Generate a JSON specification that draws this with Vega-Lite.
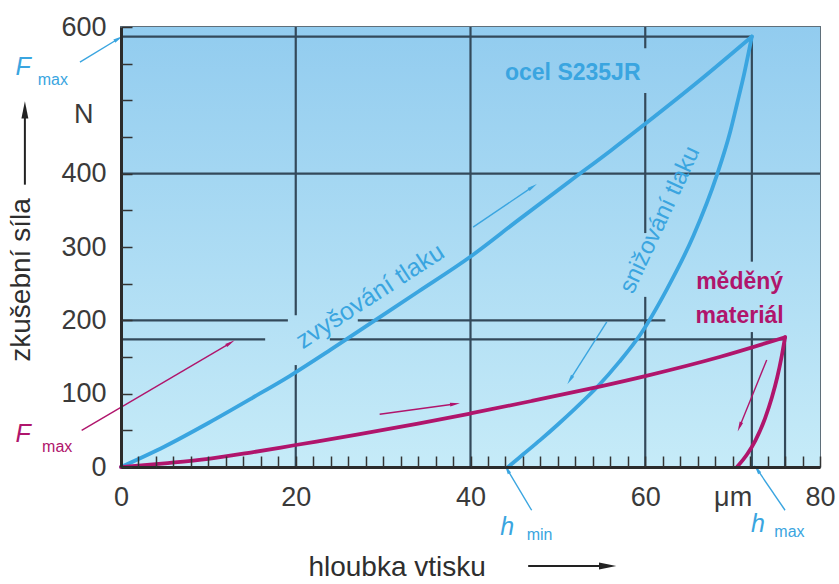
{
  "$schema": "https://vega.github.io/schema/vega-lite/v6.json",
  "width": 699,
  "height": 440,
  "autosize": "none",
  "padding": {"left": 121, "top": 27, "right": 19, "bottom": 117},
  "background": "white",
  "config": {"view": {"stroke": "#5f6f7a", "strokeWidth": 2}, "font": "Liberation Sans", "axis": {"labelOverlap": false}},
  "resolve": {"axis": {"x": "independent", "y": "independent"}},
  "datasets": {
    "frame": [{"x": 0, "x2": 80, "y": 0, "y2": 600}],
    "grid": [
      {"x": 0, "x2": 80, "y": 400, "y2": 400},
      {"x": 0, "x2": 19.1, "y": 200, "y2": 200},
      {"x": 27.1, "x2": 62.3, "y": 200, "y2": 200},
      {"x": 0, "x2": 16.5, "y": 174, "y2": 174},
      {"x": 23.9, "x2": 76, "y": 174, "y2": 174},
      {"x": 0, "x2": 72.2, "y": 587, "y2": 587},
      {"x": 20, "x2": 20, "y": 0, "y2": 139},
      {"x": 20, "x2": 20, "y": 207, "y2": 600},
      {"x": 40, "x2": 40, "y": 0, "y2": 600},
      {"x": 60, "x2": 60, "y": 0, "y2": 232},
      {"x": 60, "x2": 60, "y": 319, "y2": 510},
      {"x": 60, "x2": 60, "y": 571, "y2": 600},
      {"x": 72.2, "x2": 72.2, "y": 0, "y2": 184},
      {"x": 72.2, "x2": 72.2, "y": 280, "y2": 587},
      {"x": 76, "x2": 76, "y": 0, "y2": 177}
    ],
    "curves": [
      {"series": "steel", "phase": "load", "x": 0, "F": 0},
      {"series": "steel", "phase": "load", "x": 5, "F": 28},
      {"series": "steel", "phase": "load", "x": 10, "F": 60},
      {"series": "steel", "phase": "load", "x": 15, "F": 94},
      {"series": "steel", "phase": "load", "x": 19.3, "F": 124},
      {"series": "steel", "phase": "load", "x": 24, "F": 160},
      {"series": "steel", "phase": "load", "x": 28.8, "F": 198},
      {"series": "steel", "phase": "load", "x": 34, "F": 239},
      {"series": "steel", "phase": "load", "x": 39.9, "F": 286},
      {"series": "steel", "phase": "load", "x": 45.5, "F": 337},
      {"series": "steel", "phase": "load", "x": 51.4, "F": 390},
      {"series": "steel", "phase": "load", "x": 56, "F": 431},
      {"series": "steel", "phase": "load", "x": 60, "F": 468},
      {"series": "steel", "phase": "load", "x": 66, "F": 525},
      {"series": "steel", "phase": "load", "x": 72.2, "F": 587},
      {"series": "steel", "phase": "unload", "x": 72.2, "F": 587},
      {"series": "steel", "phase": "unload", "x": 71.3, "F": 535},
      {"series": "steel", "phase": "unload", "x": 70.5, "F": 495},
      {"series": "steel", "phase": "unload", "x": 69.7, "F": 456},
      {"series": "steel", "phase": "unload", "x": 68.2, "F": 398},
      {"series": "steel", "phase": "unload", "x": 65.5, "F": 315},
      {"series": "steel", "phase": "unload", "x": 62.5, "F": 243},
      {"series": "steel", "phase": "unload", "x": 59.4, "F": 180},
      {"series": "steel", "phase": "unload", "x": 57, "F": 143},
      {"series": "steel", "phase": "unload", "x": 54.5, "F": 109},
      {"series": "steel", "phase": "unload", "x": 52, "F": 80},
      {"series": "steel", "phase": "unload", "x": 50, "F": 58},
      {"series": "steel", "phase": "unload", "x": 48, "F": 37},
      {"series": "steel", "phase": "unload", "x": 46, "F": 17},
      {"series": "steel", "phase": "unload", "x": 44.3, "F": 0},
      {"series": "copper", "phase": "load", "x": 0, "F": 0},
      {"series": "copper", "phase": "load", "x": 5, "F": 5},
      {"series": "copper", "phase": "load", "x": 10, "F": 11},
      {"series": "copper", "phase": "load", "x": 15, "F": 20},
      {"series": "copper", "phase": "load", "x": 20, "F": 30},
      {"series": "copper", "phase": "load", "x": 27, "F": 44},
      {"series": "copper", "phase": "load", "x": 34, "F": 59},
      {"series": "copper", "phase": "load", "x": 40, "F": 73},
      {"series": "copper", "phase": "load", "x": 47, "F": 90},
      {"series": "copper", "phase": "load", "x": 54.5, "F": 109},
      {"series": "copper", "phase": "load", "x": 60, "F": 124},
      {"series": "copper", "phase": "load", "x": 68.5, "F": 150},
      {"series": "copper", "phase": "load", "x": 76, "F": 177},
      {"series": "copper", "phase": "unload", "x": 76, "F": 177},
      {"series": "copper", "phase": "unload", "x": 75.6, "F": 150},
      {"series": "copper", "phase": "unload", "x": 75.1, "F": 122},
      {"series": "copper", "phase": "unload", "x": 74.5, "F": 95},
      {"series": "copper", "phase": "unload", "x": 73.7, "F": 66},
      {"series": "copper", "phase": "unload", "x": 72.6, "F": 36},
      {"series": "copper", "phase": "unload", "x": 71.7, "F": 18},
      {"series": "copper", "phase": "unload", "x": 70.5, "F": 0}
    ],
    "arrows": [
      {"series": "steel", "x": 40.3, "y": 327, "x2": 47.1, "y2": 382, "heading": 56},
      {"series": "steel", "x": 55.6, "y": 198, "x2": 51.4, "y2": 119, "heading": 212},
      {"series": "copper", "x": 29.6, "y": 72, "x2": 38.2, "y2": 86, "heading": 82},
      {"series": "copper", "x": 73.9, "y": 146, "x2": 70.8, "y2": 55, "heading": 202},
      {"series": "copper", "x": -4.5, "y": 50, "x2": 12.5, "y2": 169, "heading": 59},
      {"series": "steel", "x": -4.7, "y": 552, "x2": -0.3, "y2": 584, "heading": 59},
      {"series": "steel", "x": 47, "y": -59, "x2": 44.2, "y2": -3, "heading": 332},
      {"series": "steel", "x": 76, "y": -59, "x2": 72.8, "y2": -3, "heading": 327},
      {"series": "axis", "x": -11, "y": 385, "x2": -11, "y2": 487, "heading": 0},
      {"series": "axis", "x": 46.6, "y": -135, "x2": 55.7, "y2": -135, "heading": 90}
    ]
  },
  "layer": [
    {
      "data": {"name": "frame"},
      "mark": {"type": "rect", "color": {"gradient": "linear", "x1": 0, "y1": 0, "x2": 0, "y2": 1, "stops": [{"offset": 0, "color": "#92ccef"}, {"offset": 1, "color": "#c6ebf8"}]}},
      "encoding": {
        "x": {"field": "x", "type": "quantitative", "scale": {"domain": [0, 80], "nice": false, "zero": false},
          "axis": {"values": [0, 20, 40, 60, 70, 80], "orient": "bottom",
            "labelExpr": "datum.value == 70 ? 'μm' : datum.label",
            "ticks": false, "grid": false, "zindex": 1,
            "domainColor": "#2b2b2b", "domainWidth": 3, "labelFontSize": 27, "labelColor": "#3a3a3a",
            "labelFont": "Liberation Sans", "labelPadding": 17, "labelFlush": false, "labelOverlap": false, "labelBound": false, "title": null}},
        "x2": {"field": "x2"},
        "y": {"field": "y", "type": "quantitative", "scale": {"domain": [0, 600], "nice": false, "zero": false},
          "axis": {"values": [0, 100, 200, 300, 400, 500, 600], "orient": "left",
            "labelExpr": "datum.value == 500 ? 'N' : datum.label",
            "labelOffset": {"condition": {"test": "datum.value == 500", "value": 14}, "value": 0},
            "labelPadding": {"condition": {"test": "datum.value == 500", "value": 28}, "value": 15},
            "ticks": false, "grid": false, "zindex": 1,
            "domainColor": "#2b2b2b", "domainWidth": 3, "labelFontSize": 27, "labelColor": "#3a3a3a",
            "labelFont": "Liberation Sans", "labelFlush": false, "labelOverlap": false, "labelBound": false, "title": null}},
        "y2": {"field": "y2"}
      }
    },
    {
      "data": {"name": "grid"},
      "mark": {"type": "rule", "color": "#33495a", "strokeWidth": 2.2},
      "encoding": {
        "x": {"field": "x", "type": "quantitative",
          "axis": {"values": [0,2,4,6,8,10,12,14,16,18,20,22,24,26,28,30,32,34,36,38,40,42,44,46,48,50,52,54,56,58,60,62,64,66,68,70,72,74,76,78,80],
            "orient": "bottom", "offset": -11, "tickSize": 11, "tickColor": "#333", "tickWidth": 1.5,
            "labels": false, "domain": false, "grid": false, "zindex": 1, "title": null}},
        "x2": {"field": "x2"},
        "y": {"field": "y", "type": "quantitative",
          "axis": {"values": [0,50,100,150,200,250,300,350,400,450,500,550,600],
            "orient": "left", "offset": -11, "tickSize": 11, "tickColor": "#333", "tickWidth": 1.5,
            "labels": false, "domain": false, "grid": false, "zindex": 1, "title": null}},
        "y2": {"field": "y2"}
      }
    },
    {
      "data": {"name": "curves"},
      "mark": {"type": "line", "strokeWidth": 3.8, "strokeCap": "round", "strokeJoin": "round", "interpolate": "monotone"},
      "encoding": {
        "x": {"field": "x", "type": "quantitative", "axis": null},
        "y": {"field": "F", "type": "quantitative", "axis": null},
        "detail": {"field": "phase"},
        "color": {"field": "series", "type": "nominal", "scale": {"domain": ["steel", "copper", "axis"], "range": ["#3aa5e0", "#b0156c", "#222222"]}, "legend": null}
      }
    },
    {
      "data": {"name": "arrows"},
      "transform": [{"filter": "datum.series != 'axis'"}],
      "mark": {"type": "rule", "strokeWidth": 1.4},
      "encoding": {
        "x": {"field": "x", "type": "quantitative", "axis": null},
        "x2": {"field": "x2"},
        "y": {"field": "y", "type": "quantitative", "axis": null},
        "y2": {"field": "y2"},
        "color": {"field": "series", "type": "nominal", "legend": null}
      }
    },
    {
      "data": {"name": "arrows"},
      "transform": [{"filter": "datum.series != 'axis'"}],
      "mark": {"type": "point", "shape": "M-0.35,0.9L0,-1L0.35,0.9Z", "filled": true, "opacity": 1, "size": 110},
      "encoding": {
        "x": {"field": "x2", "type": "quantitative", "axis": null},
        "y": {"field": "y2", "type": "quantitative", "axis": null},
        "angle": {"field": "heading", "type": "quantitative", "scale": null},
        "color": {"field": "series", "type": "nominal", "legend": null}
      }
    },
    {
      "data": {"name": "arrows"},
      "transform": [{"filter": "datum.series == 'axis'"}],
      "mark": {"type": "rule", "strokeWidth": 2},
      "encoding": {
        "x": {"field": "x", "type": "quantitative", "axis": null},
        "x2": {"field": "x2"},
        "y": {"field": "y", "type": "quantitative", "axis": null},
        "y2": {"field": "y2"},
        "color": {"field": "series", "type": "nominal", "legend": null}
      }
    },
    {
      "data": {"name": "arrows"},
      "transform": [{"filter": "datum.series == 'axis'"}],
      "mark": {"type": "point", "shape": "M-0.4,1L0,-1L0.4,1Z", "filled": true, "opacity": 1, "size": 300},
      "encoding": {
        "x": {"field": "x2", "type": "quantitative", "axis": null},
        "y": {"field": "y2", "type": "quantitative", "axis": null},
        "angle": {"field": "heading", "type": "quantitative", "scale": null},
        "color": {"field": "series", "type": "nominal", "legend": null}
      }
    },
    {
      "data": {"values": [
        {"text": "ocel S235JR", "x": 51.7, "y": 537, "series": "steel"},
        {"text": "měděný", "x": 70.8, "y": 252, "series": "copper"},
        {"text": "materiál", "x": 70.8, "y": 206, "series": "copper"}
      ]},
      "mark": {"type": "text", "fontSize": 23, "fontWeight": "bold", "font": "Liberation Sans", "align": "center", "baseline": "middle"},
      "encoding": {
        "x": {"field": "x", "type": "quantitative", "axis": null},
        "y": {"field": "y", "type": "quantitative", "axis": null},
        "text": {"field": "text"},
        "color": {"field": "series", "type": "nominal", "legend": null}
      }
    },
    {
      "data": {"values": [{"text": "zvyšování tlaku", "x": 28.5, "y": 233, "series": "steel"}]},
      "mark": {"type": "text", "fontSize": 25, "angle": 327, "font": "Liberation Sans", "align": "center", "baseline": "middle"},
      "encoding": {
        "x": {"field": "x", "type": "quantitative", "axis": null},
        "y": {"field": "y", "type": "quantitative", "axis": null},
        "text": {"field": "text"},
        "color": {"field": "series", "type": "nominal", "legend": null}
      }
    },
    {
      "data": {"values": [{"text": "snižování tlaku", "x": 61.7, "y": 337, "series": "steel"}]},
      "mark": {"type": "text", "fontSize": 24, "angle": 295, "font": "Liberation Sans", "align": "center", "baseline": "middle"},
      "encoding": {
        "x": {"field": "x", "type": "quantitative", "axis": null},
        "y": {"field": "y", "type": "quantitative", "axis": null},
        "text": {"field": "text"},
        "color": {"field": "series", "type": "nominal", "legend": null}
      }
    },
    {
      "data": {"values": [
        {"text": "F", "x": -11.2, "y": 546, "series": "steel"},
        {"text": "F", "x": -11.2, "y": 45, "series": "copper"},
        {"text": "h", "x": 44.2, "y": -82, "series": "steel"},
        {"text": "h", "x": 72.9, "y": -78, "series": "steel"}
      ]},
      "mark": {"type": "text", "fontSize": 25, "fontStyle": "italic", "font": "Liberation Sans", "align": "center", "baseline": "middle"},
      "encoding": {
        "x": {"field": "x", "type": "quantitative", "axis": null},
        "y": {"field": "y", "type": "quantitative", "axis": null},
        "text": {"field": "text"},
        "color": {"field": "series", "type": "nominal", "legend": null}
      }
    },
    {
      "data": {"values": [
        {"text": "max", "x": -7.8, "y": 528, "series": "steel"},
        {"text": "max", "x": -7.3, "y": 27, "series": "copper"},
        {"text": "min", "x": 47.9, "y": -93, "series": "steel"},
        {"text": "max", "x": 76.5, "y": -89, "series": "steel"}
      ]},
      "mark": {"type": "text", "fontSize": 16, "font": "Liberation Sans", "align": "center", "baseline": "middle"},
      "encoding": {
        "x": {"field": "x", "type": "quantitative", "axis": null},
        "y": {"field": "y", "type": "quantitative", "axis": null},
        "text": {"field": "text"},
        "color": {"field": "series", "type": "nominal", "legend": null}
      }
    },
    {
      "data": {"values": [{"text": "hloubka vtisku", "x": 31.6, "y": -138}]},
      "mark": {"type": "text", "fontSize": 28, "font": "Liberation Sans", "color": "#2e2e2e", "align": "center", "baseline": "middle"},
      "encoding": {
        "x": {"field": "x", "type": "quantitative", "axis": null},
        "y": {"field": "y", "type": "quantitative", "axis": null},
        "text": {"field": "text"}
      }
    },
    {
      "data": {"values": [{"text": "zkušební síla", "x": -11.3, "y": 255}]},
      "mark": {"type": "text", "fontSize": 28, "angle": 270, "font": "Liberation Sans", "color": "#2e2e2e", "align": "center", "baseline": "middle"},
      "encoding": {
        "x": {"field": "x", "type": "quantitative", "axis": null},
        "y": {"field": "y", "type": "quantitative", "axis": null},
        "text": {"field": "text"}
      }
    }
  ]
}
